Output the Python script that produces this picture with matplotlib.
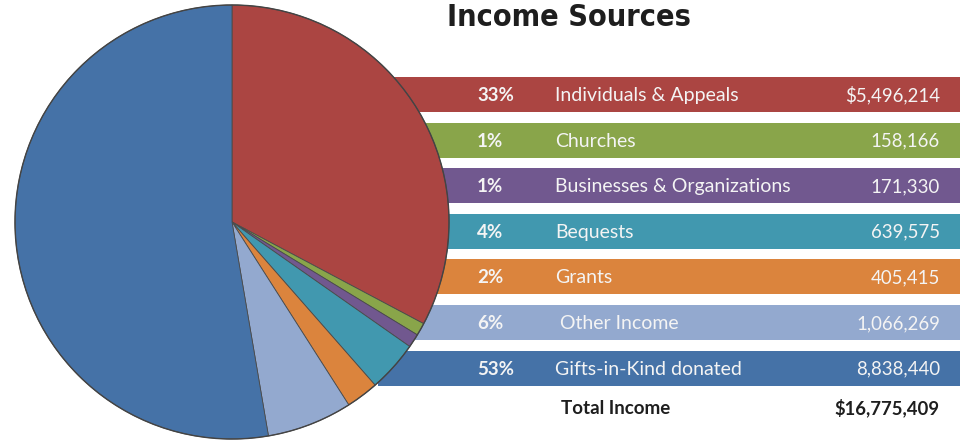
import numpy as np
import matplotlib
matplotlib.use("Agg")
from matplotlib import pyplot as plt

categories = ['Individuals & Appeals', 'Churches', 'Businesses & Organizations',
              'Bequests', 'Grants', ' Other Income', 'Gifts-in-Kind donated']
amounts = [5496214, 158166, 171330, 639575, 405415, 1066269, 8838440]
colors = ['#AB4542', '#89A54A', '#71588F', '#4198AF', '#DB843D', '#93A9CF', '#4572A7']
total = sum(amounts)

W, H = 965, 442
fig = plt.figure(figsize=(W / 100, H / 100), dpi=100)
ax = fig.add_axes([0, 0, 1, 1])

def yy(y):
    # pixel row (from top) -> data y
    return H - y

font = ['Lato', 'DejaVu Sans']

# pie on top of the bars
wedges, _ = ax.pie(amounts, colors=colors, startangle=90, counterclock=False,
                   center=(232, yy(222)), radius=217, frame=True,
                   wedgeprops=dict(edgecolor='#4a4a4a', linewidth=0.6))
for w in wedges:
    w.set_zorder(3)
rim = plt.Circle((232, yy(222)), 217, fill=False, edgecolor='#444444', lw=1.0, zorder=4)
ax.add_patch(rim)

# bars behind the pie
row0, pitch, bar_h = 94.5, 45.6, 35
rows = [row0 + i * pitch for i in range(len(categories))]
ax.barh([yy(r) for r in rows], 960 - 378, left=378, height=bar_h,
        color=colors, zorder=1)

for r, cat, amt in zip(rows, categories, amounts):
    pct = '{}%'.format(int(round(amt / total * 100)))
    val = '${:,}'.format(amt) if amt == amounts[0] else '{:,}'.format(amt)
    ty_ = yy(r + 1)
    ax.text(477, ty_, pct, color='#f4f4f4', fontsize=13.5, fontweight='bold',
            va='center', ha='left', family=font, zorder=5)
    ax.text(555, ty_, cat, color='#f4f4f4', fontsize=14, va='center',
            ha='left', family=font, zorder=5)
    ax.text(940, ty_, val, color='#f4f4f4', fontsize=13.4, va='center',
            ha='right', family=font, zorder=5)

ty = 408
ax.text(561, yy(ty), 'Total Income', color='#1e1e1e', fontsize=13.5,
        fontweight='bold', va='center', ha='left', family=font)
ax.text(940, yy(ty), '${:,}'.format(total), color='#1e1e1e', fontsize=13.3,
        fontweight='bold', va='center', ha='right', family=font)

ax.text(447, yy(17), 'Income Sources', color='#1e1e1e', fontsize=22,
        fontweight='bold', fontstretch='condensed', va='center', ha='left',
        family=['DejaVu Sans'])

ax.set_xlim(0, W)
ax.set_ylim(0, H)
ax.set_aspect('auto')
ax.axis('off')

fig.savefig('out.png', dpi=100, facecolor='white')
